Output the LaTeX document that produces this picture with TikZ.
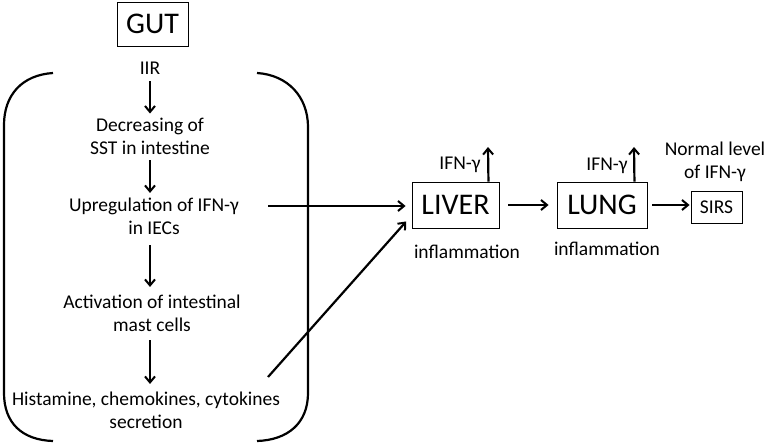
\documentclass[tikz,border=0pt]{standalone}
\usepackage{fontspec}
\setmainfont{Carlito}
\usetikzlibrary{arrows.meta}
\begin{document}
\begin{tikzpicture}[x=1pt,y=-1pt,
  txt/.style={inner sep=0pt,align=center,font=\fontsize{19.5}{23}\selectfont},
  big/.style={draw,line width=0.9pt,inner sep=0pt,font=\fontsize{30}{34}\selectfont},
  arr/.style={line width=2.2pt,-{Straight Barb[length=6pt,width=10pt,line width=2pt]}},
  brk/.style={line width=2.2pt}]
\useasboundingbox (0,0) rectangle (767,443);
% GUT box
\node[big,minimum width=71pt,minimum height=44pt] (gut) at (152.5,24) {GUT};
% left texts
\node[txt] (iir) at (150,68) {IIR};
\node[txt] (dec) at (150,136) {Decreasing of\\SST in intestine};
\node[txt] (up) at (154,216.5) {Upregulation of IFN-γ\\in IECs};
\node[txt] (act) at (152,313.5) {Activation of intestinal\\mast cells};
\node[txt] (hist) at (146,410.5) {Histamine, chemokines, cytokines\\secretion};
% brackets
\draw[brk] (53,73) .. controls (22,75) and (4,95) .. (4,125) -- (4,393) .. controls (4,423) and (22,440) .. (53,441);
\draw[brk] (257,73) .. controls (288,75) and (308,97) .. (308,127) -- (308,393) .. controls (308,423) and (288,440) .. (257,441);
% vertical arrows
\draw[arr,shorten <=7pt,shorten >=4pt] (iir) -- (iir|-dec.north);
\draw[arr,shorten <=6pt,shorten >=5pt] (dec.south-|iir) -- (iir|-up.north);
\draw[arr,shorten <=10pt,shorten >=8pt] (up.south-|iir) -- (iir|-act.north);
\draw[arr,shorten <=8pt,shorten >=8pt] (act.south-|iir) -- (iir|-hist.north);
% organ boxes
\node[big,minimum width=87pt,minimum height=46pt] (liver) at (455.5,205) {LIVER};
\node[big,minimum width=90pt,minimum height=46pt] (lung) at (602,205) {LUNG};
\node[draw,line width=0.9pt,inner sep=0pt,minimum width=51pt,minimum height=32pt,font=\fontsize{19.5}{23}\selectfont] (sirs) at (716.5,207) {SIRS};
% connectors into liver
\coordinate (s1) at (268,206);
\coordinate (s2) at (268,377);
\draw[arr,shorten >=6pt] (s1) -- (liver.west|-s1);
\draw[arr,shorten >=8pt] (s2) -- ([yshift=13pt]liver.south west);
\draw[arr,shorten <=9pt,shorten >=8pt] (liver.east) -- (lung.west);
\draw[arr,shorten <=5pt,shorten >=1pt] (lung.east) -- (sirs.west|-lung.east);
% IFN labels
\node[txt] (ifn1) at (460,165) {IFN-γ};
\node[txt] (ifn2) at (607,166) {IFN-γ};
\coordinate (u1) at (488,147);
\coordinate (u2) at (634,147);
\draw[arr] ([xshift=-11pt]liver.north east) -- (u1);
\draw[arr] ([xshift=-13pt]lung.north east) -- (u2);
\node[txt] (inf1) at (467,252) {inflammation};
\node[txt] (inf2) at (607,249) {inflammation};
\node[txt] (norm) at (715,162) {Normal level\\of IFN-γ};
\end{tikzpicture}
\end{document}
